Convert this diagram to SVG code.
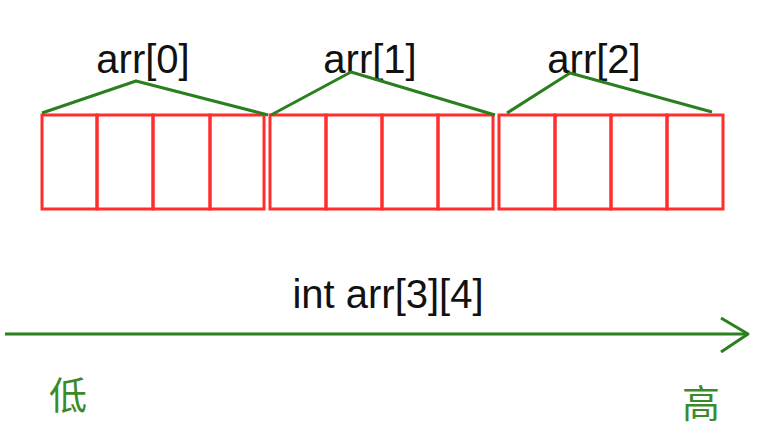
<svg xmlns="http://www.w3.org/2000/svg" width="758" height="446" viewBox="0 0 758 446">
<style>
.cell{fill:none;stroke:#ff2e2e;stroke-width:3}
.brace{fill:none;stroke:#2a7f1e;stroke-width:3;stroke-linejoin:round}
.lbl{font-family:"Liberation Sans",Arial,sans-serif;font-size:40px;fill:#111;text-anchor:middle}
.cjk{font-family:"Noto Sans CJK SC",sans-serif;font-size:38px;fill:#3a8a2a;text-anchor:middle}
</style>
<rect width="758" height="446" fill="#fff"/>
<g id="row0">
<rect class="cell" x="42" y="115" width="55" height="94"/>
<rect class="cell" x="97" y="115" width="56" height="94"/>
<rect class="cell" x="153" y="115" width="57" height="94"/>
<rect class="cell" x="210" y="115" width="54" height="94"/>
<text class="lbl" x="143" y="73">arr[0]</text>
</g>
<g id="row1">
<rect class="cell" x="270" y="115" width="56" height="94"/>
<rect class="cell" x="326" y="115" width="56" height="94"/>
<rect class="cell" x="382" y="115" width="56" height="94"/>
<rect class="cell" x="438" y="115" width="55" height="94"/>
<text class="lbl" x="370" y="73">arr[1]</text>
</g>
<g id="row2">
<rect class="cell" x="499" y="115" width="56" height="94"/>
<rect class="cell" x="555" y="115" width="56" height="94"/>
<rect class="cell" x="611" y="115" width="56" height="94"/>
<rect class="cell" x="667" y="115" width="56" height="94"/>
<text class="lbl" x="594" y="73">arr[2]</text>
</g>
<g id="title">
<text class="lbl" x="388" y="308">int arr[3][4]</text>
</g>
<g id="low"><text class="cjk" x="68" y="409">低</text></g>
<g id="high"><text class="cjk" x="701" y="417">高</text></g>
<g id="connectors">
<polyline class="brace" points="42,113 136,81 268,115"/>
<polyline class="brace" points="271,115 351,72 495,115"/>
<polyline class="brace" points="507,113 570,73 712,112"/>
<line class="brace" x1="5" y1="334" x2="747" y2="334"/>
<polyline class="brace" points="721,318 748,334 721,352"/>
</g>
</svg>
